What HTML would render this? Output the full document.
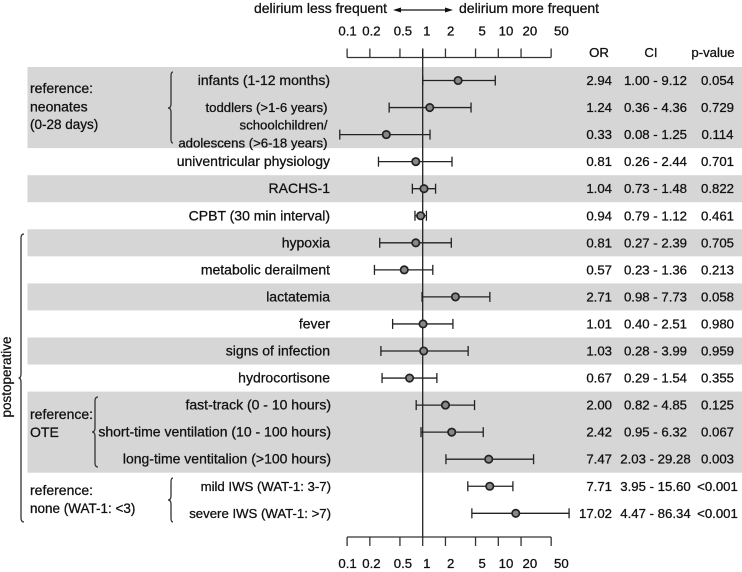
<!DOCTYPE html>
<html lang="en">
<head>
<meta charset="utf-8">
<title>Forest plot of delirium risk factors</title>
<style>
html,body{margin:0;padding:0;background:#fff;width:742px;height:572px;overflow:hidden}
svg{display:block}
text{font-family:"Liberation Sans",sans-serif;font-size:13.2px;fill:#111;stroke:#111;stroke-width:.28px}
.big{font-size:14px}
.mid{font-size:13.5px}
</style>
</head>
<body>
<svg id="chart" width="742" height="572" viewBox="0 0 742 572" xmlns="http://www.w3.org/2000/svg">
<g id="bands"></g>
<g id="brackets" fill="none" stroke="#333" stroke-width="1.3">
<path d="M173 72 Q171 72 171 76 V104 Q171 108 168 108 Q171 108 171 112 V139 Q171 143 173 143"/>
<path d="M98 397 Q95 397 95 401 V428 Q95 432 92 432 Q95 432 95 436 V463 Q95 467 98 467"/>
<path d="M173 478 Q171 478 171 482 V496 Q171 500 168 500 Q171 500 171 504 V518 Q171 522 173 522"/>
<path d="M24 234 Q21 234 21 238 V374 Q21 378 18.5 378 Q21 378 21 382 V518 Q21 522 24 522"/>
</g>
<text class="mid" transform="translate(11 377) rotate(-90)" text-anchor="middle">postoperative</text>
<g>
<text class="big" x="30" y="93">reference:</text>
<text class="big" x="30" y="111.5">neonates</text>
<text class="mid" x="30" y="129">(0-28 days)</text>
<text class="big" x="30" y="419">reference:</text>
<text class="big" x="30" y="437">OTE</text>
<text class="big" x="30" y="495">reference:</text>
<text class="mid" x="30" y="513">none (WAT-1: &lt;3)</text>
</g>
<text class="big" x="387" y="13" text-anchor="end">delirium less frequent</text>
<text class="big" x="459" y="13">delirium more frequent</text>
<g>
<line x1="396" y1="10" x2="450" y2="10" stroke="#111" stroke-width="1.3"/>
<path d="M393 10 L401 7.5 V12.5 Z" fill="#111"/>
<path d="M453 10 L445 7.5 V12.5 Z" fill="#111"/>
</g>
<text x="599" y="57" text-anchor="middle">OR</text>
<text x="651" y="57" text-anchor="middle">CI</text>
<text x="713" y="57" text-anchor="middle">p-value</text>
<g id="axes"></g>
<g id="rows"></g>
</svg>
<script>
const categories = ["infants (1-12 months)","toddlers (>1-6 years)","schoolchildren/\nadolescens (>6-18 years)","univentricular physiology","RACHS-1","CPBT (30 min interval)","hypoxia","metabolic derailment","lactatemia","fever","signs of infection","hydrocortisone","fast-track (0 - 10 hours)","short-time ventilation (10 - 100 hours)","long-time ventitalion (>100 hours)","mild IWS (WAT-1: 3-7)","severe IWS (WAT-1: >7)"];
const oddsRatios = [2.94,1.24,0.33,0.81,1.04,0.94,0.81,0.57,2.71,1.01,1.03,0.67,2.00,2.42,7.47,7.71,17.02];
const ciLower = [1.00,0.36,0.08,0.26,0.73,0.79,0.27,0.23,0.98,0.40,0.28,0.29,0.82,0.95,2.03,3.95,4.47];
const ciUpper = [9.12,4.36,1.25,2.44,1.48,1.12,2.39,1.36,7.73,2.51,3.99,1.54,4.85,6.32,29.28,15.60,86.34];
const pValues = ["0.054","0.729","0.114","0.701","0.822","0.461","0.705","0.213","0.058","0.980","0.959","0.355","0.125","0.067","0.003","<0.001","<0.001"];
const axisTicks = [0.1,0.2,0.5,1,2,5,10,20,50];
const shadedRowGroups = [[0,2],[4,4],[6,6],[8,8],[10,10],[12,14]];

const NS = "http://www.w3.org/2000/svg";
const x = v => 422.7 + 75.6 * Math.log10(v);
const tickLabelX = v => 426.8 + 79.2 * Math.log10(v);
const y = i => 80.5 + 27.05 * i;
function mk(parent, tag, attrs, txt) {
  const el = document.createElementNS(NS, tag);
  for (const k in attrs) el.setAttribute(k, attrs[k]);
  if (txt !== undefined) el.textContent = txt;
  parent.appendChild(el);
  return el;
}
const bands = document.getElementById("bands");
shadedRowGroups.forEach(g => {
  const top = g[0] === 0 ? 67 : y(g[0]) - 13.5;
  const bot = y(g[1]) + 13.5;
  const el = mk(bands, "rect", {x: 27.5, y: top, width: 714.5, height: bot - top, fill: "#d6d6d6"});
  
  
});
const axes = document.getElementById("axes");
function drawAxis(lineY, tickTop, tickBottom, labelY, prefix) {
  const line = mk(axes, "line", {x1: x(axisTicks[0]), x2: x(axisTicks[axisTicks.length - 1]), y1: lineY, y2: lineY, stroke: "#333", "stroke-width": 1.3});
  
  
  axisTicks.forEach(t => {
    const tick = mk(axes, "line", {x1: x(t), x2: x(t), y1: tickTop, y2: tickBottom, stroke: "#333", "stroke-width": 1.3});
    
    
    const lab = mk(axes, "text", {x: tickLabelX(t), y: labelY, "text-anchor": "middle"}, String(t));
    
    
  });
}
drawAxis(57.5, 48.5, 57.5, 35.5, "top");
drawAxis(537, 537, 546, 568, "bottom");
const refLine = mk(axes, "line", {x1: x(1), x2: x(1), y1: 48.5, y2: 537, stroke: "#222", "stroke-width": 1.3});



const rows = document.getElementById("rows");
categories.forEach((cat, i) => {
  const cy = y(i);
  const parts = cat.split("\n");
  parts.forEach((p, j) => {
    const ty = parts.length > 1 ? cy - 5 + j * 18 : cy + 4.5;
    const compact = i === 1 || i === 2 || i >= 15;
    const lab = mk(rows, "text", {x: (i === 1 || i === 2) ? 327.5 : (i >= 12 ? 331 : 330), y: ty, "text-anchor": "end", class: compact ? "" : "big"}, p);
    
    
  });
  const ci = mk(rows, "line", {x1: x(ciLower[i]), x2: x(ciUpper[i]), y1: cy, y2: cy, stroke: "#222", "stroke-width": 1.3});
  
  
  [ciLower[i], ciUpper[i]].forEach(v => {
    const cap = mk(rows, "line", {x1: x(v), x2: x(v), y1: cy - 5, y2: cy + 5, stroke: "#222", "stroke-width": 1.3});
    
    
  });
  const pt = mk(rows, "circle", {cx: x(oddsRatios[i]), cy: cy, r: 3.7, fill: "#878787", stroke: "#222", "stroke-width": 1.7});
  
  
  const orT = mk(rows, "text", {x: 612, y: cy + 4.5, "text-anchor": "end"}, oddsRatios[i].toFixed(2));
  
  
  const ciT = mk(rows, "text", {x: 655.5, y: cy + 4.5, "text-anchor": "middle"}, ciLower[i].toFixed(2) + " - " + ciUpper[i].toFixed(2));
  
  
  const pT = mk(rows, "text", {x: 717.5, y: cy + 4.5, "text-anchor": "middle"}, pValues[i]);
  
  
});
</script>
</body>
</html>
